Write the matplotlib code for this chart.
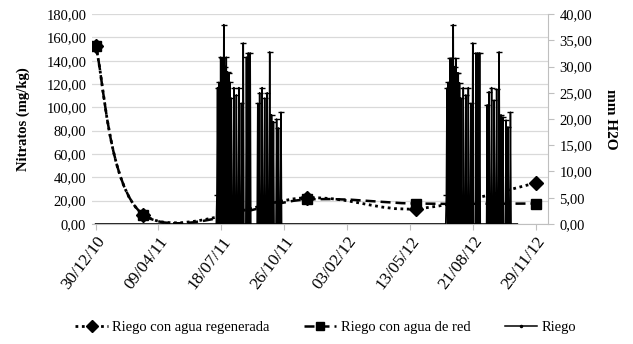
import numpy as np
import pandas as pd
import matplotlib
matplotlib.use("Agg")
import matplotlib.pyplot as plt
import matplotlib.dates as mdates
from matplotlib.path import Path
from matplotlib.patches import PathPatch
from matplotlib.lines import Line2D
from matplotlib.ticker import FuncFormatter, MultipleLocator

plt.rcParams['font.family'] = ['Liberation Serif', 'DejaVu Serif']

# nitrate samples (mg/kg)
fechas_muestreo = ['2010-12-30', '2011-03-16', '2011-12-01', '2012-05-22', '2012-11-29']
nitratos_regenerada = [153.0, 8.0, 22.5, 13.0, 35.0]
nitratos_red = [153.0, 8.0, 21.0, 17.5, 17.5]

# irrigation events (days since 30/12/10) and mm H2O
inicio = pd.Timestamp('2010-12-30')
riego_dias_2011 = [193, 194, 196, 199, 201, 204, 206, 208, 210, 212, 214, 216, 220,
                   224, 228, 232, 235, 240, 243, 246, 258, 261, 265, 269, 273, 277,
                   280, 283, 288, 291, 295]
riego_mm_2011 = [5.5, 26.0, 27.0, 31.8, 31.6, 38.0, 30.0, 31.8, 29.0, 28.8, 27.0, 24.0,
                 26.0, 24.6, 26.0, 23.0, 34.5, 31.8, 32.6, 32.6, 23.0, 25.0, 26.0, 24.0,
                 25.0, 32.8, 20.8, 19.5, 20.0, 18.3, 21.3]
riego_dias_2012 = [d + 365 for d in riego_dias_2011]
riego_mm_2012 = [5.5, 25.9, 27.0, 31.6, 31.6, 38.0, 30.0, 31.6, 28.8, 28.8, 26.9, 24.0,
                 26.0, 24.6, 26.0, 23.0, 34.5, 32.6, 32.6, 32.6, 22.7, 25.2, 26.0, 23.6,
                 25.7, 32.8, 20.8, 20.4, 19.8, 18.5, 21.3]
riego_fin = 671

tick_labels = ['30/12/10', '09/04/11', '18/07/11', '26/10/11', '03/02/12',
               '13/05/12', '21/08/12', '29/11/12']


def smooth_path(xs, ys):
    # Excel-style smoothed line (cubic Bezier through the points)
    pts = np.column_stack([xs, ys])
    verts = [pts[0]]
    codes = [Path.MOVETO]
    n = len(pts)
    for i in range(n - 1):
        p0 = pts[i - 1] if i > 0 else pts[i]
        p1 = pts[i]
        p2 = pts[i + 1]
        p3 = pts[i + 2] if i + 2 < n else pts[i + 1]
        verts += [p1 + (p2 - p0) / 6, p2 - (p3 - p1) / 6, p2]
        codes += [Path.CURVE4] * 3
    return Path(verts, codes)


x_m = mdates.date2num(pd.to_datetime(fechas_muestreo))

# daily irrigation series, zero on days without irrigation
dias = np.arange(0, riego_fin + 1)
riego = np.zeros(len(dias))
riego[riego_dias_2011] = riego_mm_2011
riego[riego_dias_2012] = riego_mm_2012
x_r = mdates.date2num(inicio + pd.to_timedelta(dias, unit='D'))

fig = plt.figure(figsize=(6.33, 3.44), dpi=100)
ax = fig.add_axes([0.145, 0.349, 0.721, 0.610])
ax2 = ax.twinx()

ax.set_ylim(0, 180)
ax2.set_ylim(0, 40)
x0 = mdates.date2num(inicio)
ax.set_xlim(x0 - 6, x0 + 720)

ax.yaxis.set_major_locator(MultipleLocator(20))
ax2.yaxis.set_major_locator(MultipleLocator(5))
fmt = FuncFormatter(lambda v, p: f"{v:.2f}".replace('.', ','))
ax.yaxis.set_major_formatter(fmt)
ax2.yaxis.set_major_formatter(fmt)
ax.grid(axis='y', color='#d9d9d9', lw=0.9)
ax.set_axisbelow(True)

ax.set_xticks(x0 + np.arange(len(tick_labels)) * 100)
ax.set_xticklabels(tick_labels, rotation=53, ha='right', rotation_mode='anchor')

ax.add_patch(PathPatch(smooth_path(x_m, nitratos_regenerada), fill=False,
                       ec='black', lw=2.0, ls=(0, (1, 1.3))))
ax.add_patch(PathPatch(smooth_path(x_m, nitratos_red), fill=False,
                       ec='black', lw=1.8, ls=(0, (4, 2))))
ax.plot(x_m, nitratos_regenerada, ls='none', marker='D', ms=7, color='black')
ax.plot(x_m, nitratos_red, ls='none', marker='s', ms=6.5, color='black')

ax2.plot(x_r, riego, color='black', lw=1.1)
nz = riego > 0
ax2.plot(x_r[nz], riego[nz], ls='none', marker='_', ms=4, mew=1, color='black')

for a in (ax, ax2):
    for s in ('top', 'left'):
        a.spines[s].set_visible(False)
    a.spines['bottom'].set_color('#bfbfbf')
    a.spines['right'].set_color('#bfbfbf')
ax.spines['right'].set_visible(False)
ax2.spines['bottom'].set_visible(False)

ax.tick_params(axis='y', length=0, labelsize=10.5, pad=4)
ax.tick_params(axis='x', length=4, color='#bfbfbf', labelsize=12.5, pad=3)
ax2.tick_params(axis='y', length=4, color='#bfbfbf', labelsize=10.5, pad=4)

ax.set_ylabel('Nitratos (mg/kg)', fontsize=10.5, fontweight='bold', labelpad=12)
ax2.set_ylabel('mm H2O', fontsize=11, fontweight='bold', rotation=270, labelpad=18)

handles = [
    Line2D([], [], color='black', ls=(0, (1, 1.3)), lw=2, marker='D', ms=6),
    Line2D([], [], color='black', ls=(0, (4, 2)), lw=1.8, marker='s', ms=6),
    Line2D([], [], color='black', ls='-', lw=1.1, marker='.', ms=3),
]
fig.legend(handles, ['Riego con agua regenerada', 'Riego con agua de red', 'Riego'],
           loc='center', bbox_to_anchor=(0.515, 0.047), ncol=3, frameon=False,
           prop={'family': 'Liberation Serif', 'size': 10.5},
           handlelength=2.2, columnspacing=2.4, handletextpad=0.3)

fig.savefig('out.png', dpi=100)
